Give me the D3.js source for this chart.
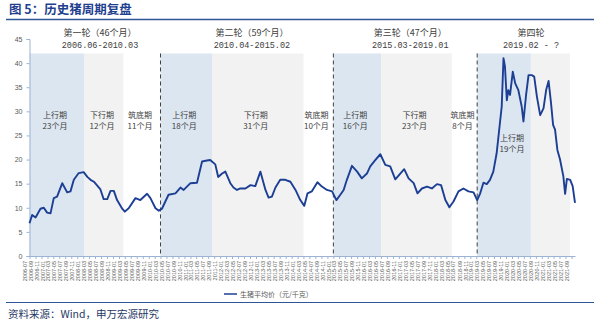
<!DOCTYPE html>
<html><head><meta charset="utf-8">
<script src="https://cdn.jsdelivr.net/npm/d3@7"></script>
<style>body{margin:0;background:#fff}svg{display:block}</style>
</head><body>
<svg id="c" width="600" height="325"></svg>
<script>
// ---- data ----
const priceDates = ["2006-07-01","2006-07-28","2006-09-01","2006-10-21","2006-11-24","2006-12-28","2007-02-01","2007-03-06","2007-04-09","2007-06-01","2007-07-21","2007-08-24","2007-09-27","2007-11-16","2008-01-06","2008-02-12","2008-03-16","2008-04-19","2008-06-25","2008-07-28","2008-09-03","2008-10-06","2008-11-09","2008-12-12","2009-02-03","2009-03-01","2009-04-10","2009-06-18","2009-08-07","2009-10-15","2009-11-18","2010-01-09","2010-02-12","2010-03-16","2010-05-22","2010-08-01","2010-09-21","2010-10-24","2011-01-01","2011-03-09","2011-04-30","2011-06-19","2011-07-22","2011-09-12","2011-10-12","2011-11-21","2011-12-24","2012-02-13","2012-03-16","2012-04-21","2012-05-25","2012-07-16","2012-09-06","2012-10-25","2012-12-16","2013-02-06","2013-03-10","2013-04-13","2013-05-19","2013-07-07","2013-08-28","2013-10-19","2013-12-10","2014-01-28","2014-03-10","2014-04-12","2014-05-25","2014-07-22","2014-09-06","2014-10-28","2014-12-19","2015-02-01","2015-03-13","2015-04-16","2015-05-19","2015-07-10","2015-09-01","2015-10-19","2015-12-10","2016-01-13","2016-03-04","2016-04-25","2016-06-15","2016-08-04","2016-09-25","2016-11-15","2016-12-25","2017-02-08","2017-04-01","2017-05-10","2017-06-24","2017-08-15","2017-10-04","2017-11-25","2018-01-06","2018-02-19","2018-04-01","2018-05-13","2018-07-03","2018-08-22","2018-10-13","2018-12-04","2019-01-10","2019-02-10","2019-03-15","2019-04-18","2019-05-21","2019-06-24","2019-07-28","2019-09-03","2019-09-18","2019-10-06","2019-10-21","2019-11-09","2019-11-24","2019-12-12","2020-01-09","2020-02-03","2020-03-06","2020-04-09","2020-04-27","2020-05-24","2020-06-18","2020-07-21","2020-08-15","2020-09-12","2020-10-15","2020-11-18","2020-12-15","2021-01-09","2021-02-03","2021-02-24","2021-03-16","2021-04-09","2021-05-06","2021-06-09","2021-06-27","2021-07-15","2021-08-18","2021-09-12","2021-10-06"];
const priceValues = [6.8,8.5,8.0,9.8,10.0,9.0,8.85,12.0,12.3,15.1,13.2,13.4,15.8,17.2,17.4,16.4,15.8,15.4,13.8,11.8,11.8,13.5,13.5,11.6,9.8,9.2,9.9,12.0,11.6,12.9,12.0,9.9,9.4,9.8,12.7,13.0,14.2,13.7,15.1,15.2,19.6,19.8,19.9,19.0,16.4,17.1,17.5,15.1,14.2,13.7,14.0,14.0,14.7,14.5,17.5,13.7,12.1,12.3,14.2,15.8,15.8,15.4,13.7,11.6,10.4,13.0,13.4,15.3,14.4,13.7,13.4,11.6,12.7,13.7,15.8,18.7,17.5,16.1,17.1,18.6,19.9,21.1,18.9,18.6,15.9,17.1,18.0,16.1,15.1,13.0,14.0,14.4,14.0,14.9,14.7,11.6,10.1,11.3,13.4,14.0,13.4,13.2,11.6,13.0,15.2,14.9,15.8,17.5,21.3,28.2,31.0,41.0,39.3,32.3,34.4,33.4,38.2,35.8,34.4,31.0,27.9,33.4,37.5,37.5,37.2,33.0,29.2,30.6,34.4,36.3,31.7,27.2,26.2,22.0,20.0,16.5,12.9,16.0,15.8,14.5,11.0];
const yTicks = [0,5,10,15,20,25,30,35,40,45];
// phases: start, end, type
const phaseStarts = ["2006-07-01","2008-01-15","2009-02-15","2010-03-01","2011-08-10","2014-03-02","2015-01-01","2016-05-04","2018-04-25","2019-01-10","2020-07-12"];
const phaseEnds   = ["2008-01-15","2009-02-15","2010-03-01","2011-08-10","2014-03-02","2015-01-01","2016-05-04","2018-04-25","2019-01-10","2020-07-12","2021-08-16"];
const phaseTypes  = ["up","down","bottom","up","down","bottom","up","down","bottom","up","down"];
const phaseNames  = ["上行期","下行期","筑底期","上行期","下行期","筑底期","上行期","下行期","筑底期","上行期",""];
const phaseMonths = ["23个月","12个月","11个月","18个月","31个月","10个月","16个月","23个月","8个月","19个月",""];
const roundDividers = ["2010-03-01","2015-01-01","2019-01-10"];
const roundStarts = ["2006-07-01","2010-03-01","2015-01-01","2019-01-10"];
const roundEnds   = ["2010-03-01","2015-01-01","2019-01-10","2021-10-06"];
const roundTitles = ["第一轮（46个月）","第二轮（59个月）","第三轮（47个月）","第四轮"];
const roundRanges = ["2006.06-2010.03","2010.04-2015.02","2015.03-2019.01","2019.02 - ?"];
const seriesName = "生猪平均价（元/千克）";
const shadeTop = 42;

// ---- build ----
const parse = d3.timeParse("%Y-%m-%d");
const data = priceDates.map((d,i)=>({date:parse(d), value:priceValues[i]}));
const svg = d3.select("#c");
const plot = {left:29.5, right:575, top:39, bottom:256};
const x = d3.scaleTime().domain(d3.extent(data,d=>d.date)).range([plot.left, plot.right]);
const y = d3.scaleLinear().domain([0,45]).range([plot.bottom, plot.top]);
const cjk = "'Noto Sans CJK SC','Noto Sans',sans-serif";
const txtColor = "#404040";

// title
svg.append("text").attr("x",9).attr("y",14).attr("font-family",cjk).attr("font-weight","bold")
  .attr("font-size",12.5).attr("fill","#1f3f8f").text("图 5：历史猪周期复盘");
svg.append("line").attr("x1",6).attr("x2",594).attr("y1",19.5).attr("y2",19.5)
  .attr("stroke","#2f5597").attr("stroke-width",1.5);

// phases shading
const phaseFill = {up:"#dce6f1", down:"#f2f2f2", bottom:"none"};
const phases = phaseStarts.map((s,i)=>({s:parse(s), e:parse(phaseEnds[i]), t:phaseTypes[i], n:phaseNames[i], m:phaseMonths[i]}));
svg.append("g").selectAll("rect").data(phases.filter(p=>p.t!=="bottom")).join("rect")
  .attr("x",p=>x(p.s)).attr("width",p=>x(p.e)-x(p.s))
  .attr("y",y(shadeTop)).attr("height",y(0)-y(shadeTop)).attr("fill",p=>phaseFill[p.t]);

// dividers
svg.append("g").selectAll("line").data(roundDividers.map(parse)).join("line")
  .attr("x1",d=>x(d)).attr("x2",d=>x(d)).attr("y1",y(shadeTop)).attr("y2",y(0))
  .attr("stroke","#404040").attr("stroke-width",1).attr("stroke-dasharray","4,3");

// phase labels
const pl = svg.append("g").attr("font-family",cjk).attr("font-size",8).attr("fill",txtColor).attr("text-anchor","middle");
phases.forEach((p,i)=>{
  if(!p.n) return;
  let cx = (x(p.s)+x(p.e))/2 - 2;
  let ty = 118;
  if(i===9){ cx += 10; ty = 141; }
  const t = pl.append("text").attr("x",cx).attr("y",ty);
  t.append("tspan").attr("x",cx).attr("dy",0).text(p.n);
  t.append("tspan").attr("x",cx).attr("dy",10.5).text(p.m);
});

// round headers
const rh = svg.append("g").attr("fill",txtColor).attr("text-anchor","middle");
roundTitles.forEach((t,i)=>{
  const cx = (x(parse(roundStarts[i]))+x(parse(roundEnds[i])))/2 + 5;
  rh.append("text").attr("x",cx).attr("y",36).attr("font-family",cjk).attr("font-size",9).text(t);
  rh.append("text").attr("x",cx).attr("y",48).attr("font-family","'Liberation Mono',monospace").attr("font-size",8.5).text(roundRanges[i]);
});

// y axis
const yAxis = svg.append("g").attr("transform",`translate(${plot.left},0)`)
  .call(d3.axisLeft(y).tickValues(yTicks).tickSize(3).tickPadding(4));
yAxis.select(".domain").attr("stroke","#9db3d6");
yAxis.selectAll(".tick line").attr("stroke","#9db3d6");
yAxis.selectAll("text").attr("font-family","'Liberation Sans',Arial,sans-serif").attr("font-size",7).attr("fill","#595959");

// x axis
const xTickDates = d3.timeMonth.every(2).range(parse("2006-07-01"), parse("2021-10-02"));
const xAxis = svg.append("g").attr("transform",`translate(0,${plot.bottom})`)
  .call(d3.axisBottom(x).tickValues(xTickDates).tickFormat(d3.timeFormat("%Y-%m")).tickSize(3).tickSizeOuter(0));
xAxis.select(".domain").attr("stroke","#9db3d6");
xAxis.selectAll(".tick line").attr("stroke","#9db3d6");
xAxis.selectAll("text").attr("font-family","'Liberation Sans',Arial,sans-serif").attr("font-size",5.5).attr("fill","#595959")
  .attr("transform","rotate(-90)").attr("text-anchor","end").attr("dx","-3").attr("dy","-0.6em").attr("y",0).attr("x",-2);

// line
const line = d3.line().x(d=>x(d.date)).y(d=>y(d.value)).curve(d3.curveLinear);
svg.append("path").datum(data).attr("d",line).attr("fill","none")
  .attr("stroke","#1c3f94").attr("stroke-width",1.9).attr("stroke-linejoin","round");

// legend
const lg = svg.append("g").attr("transform","translate(224,294)");
lg.append("line").attr("x1",0).attr("x2",13).attr("y1",0).attr("y2",0).attr("stroke","#1c3f94").attr("stroke-width",1.5);
lg.append("text").attr("x",16).attr("y",2.5).attr("font-family",cjk).attr("font-size",7).attr("fill","#595959").text(seriesName);

// footer
svg.append("line").attr("x1",6).attr("x2",594).attr("y1",302.5).attr("y2",302.5)
  .attr("stroke","#2f5597").attr("stroke-width",1.2);
svg.append("text").attr("x",8).attr("y",318).attr("font-family",cjk).attr("font-size",10.5)
  .attr("fill","#1f3864").text("资料来源：Wind，申万宏源研究");
</script>
</body></html>
